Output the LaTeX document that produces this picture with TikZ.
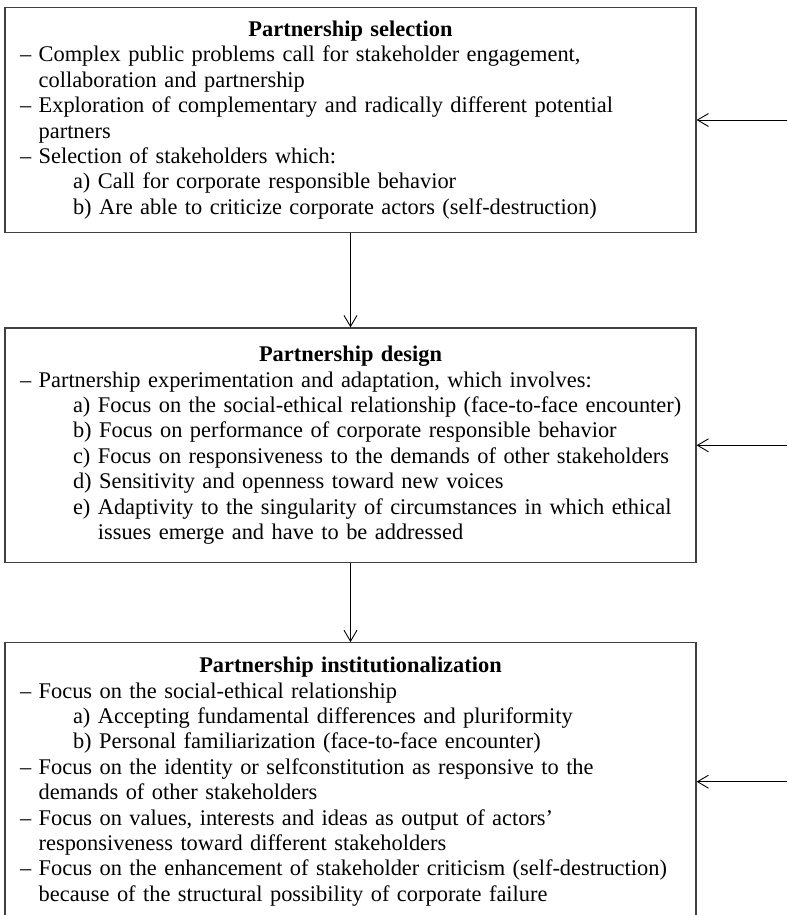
\documentclass[tikz,border=0pt]{standalone}
\usepackage{fontspec}
\setmainfont{Liberation Serif}
\usetikzlibrary{arrows.meta}

% one line of a box: dash item, its continuation, sub item, its continuation
\newcommand{\itemline}[1]{\mbox{-- #1}}
\newcommand{\contline}[1]{\mbox{\hphantom{-- }#1}}
\newcommand{\subline}[2]{\mbox{\hspace*{53pt}#1 #2}}
\newcommand{\subcont}[2]{\mbox{\hspace*{53pt}\hphantom{#1 }#2}}
\newcommand{\boxtitle}[1]{\makebox[\linewidth]{\textbf{#1}}}

\begin{document}
\begin{tikzpicture}[
    stage/.style={draw=black!75, line width=1.2pt, minimum width=691pt,
        text width=661pt, inner xsep=15pt, align=left,
        font=\fontsize{22.4pt}{25.4pt}\selectfont},
    flow/.style={line width=0.9pt, -{Straight Barb[length=11pt,width=13pt]}}
    ]

\clip (0,0) rectangle (787pt,-915pt);

\node[stage, minimum height=225.4pt] (select) at (350.5pt,-120pt) {%
\boxtitle{Partnership selection}\\
\itemline{Complex public problems call for stakeholder engagement,}\\
\contline{collaboration and partnership}\\
\itemline{Exploration of complementary and radically different potential}\\
\contline{partners}\\
\itemline{Selection of stakeholders which:}\\
\subline{a)}{Call for corporate responsible behavior}\\
\subline{b)}{Are able to criticize corporate actors (self-destruction)}};

\node[stage, minimum height=234.7pt] (design) at (350.5pt,-445.3pt) {%
\boxtitle{Partnership design}\\
\itemline{Partnership experimentation and adaptation, which involves:}\\
\subline{a)}{Focus on the social-ethical relationship (face-to-face encounter)}\\
\subline{b)}{Focus on performance of corporate responsible behavior}\\
\subline{c)}{Focus on responsiveness to the demands of other stakeholders}\\
\subline{d)}{Sensitivity and openness toward new voices}\\
\subline{e)}{Adaptivity to the singularity of circumstances in which ethical}\\
\subcont{e)}{issues emerge and have to be addressed}};

\node[stage, minimum height=278pt] (instit) at (350.5pt,-781.7pt) {%
\boxtitle{Partnership institutionalization}\\
\itemline{Focus on the social-ethical relationship}\\
\subline{a)}{Accepting fundamental differences and pluriformity}\\
\subline{b)}{Personal familiarization (face-to-face encounter)}\\
\itemline{Focus on the identity or selfconstitution as responsive to the}\\
\contline{demands of other stakeholders}\\
\itemline{Focus on values, interests and ideas as output of actors'}\\
\contline{responsiveness toward different stakeholders}\\
\itemline{Focus on the enhancement of stakeholder criticism (self-destruction)}\\
\contline{because of the structural possibility of corporate failure}};

%inputs from the right
\coordinate (inSelect) at (787pt,-120pt);
\coordinate (inDesign) at (787pt,-445.3pt);
\coordinate (inInstit) at (787pt,-781.7pt);

\draw[flow] (select) -- (design);
\draw[flow] (design) -- (instit);

\draw[flow] (inSelect) -- (select);
\draw[flow] (inDesign) -- (design);
\draw[flow] (inInstit) -- (instit);

\end{tikzpicture}
\end{document}
